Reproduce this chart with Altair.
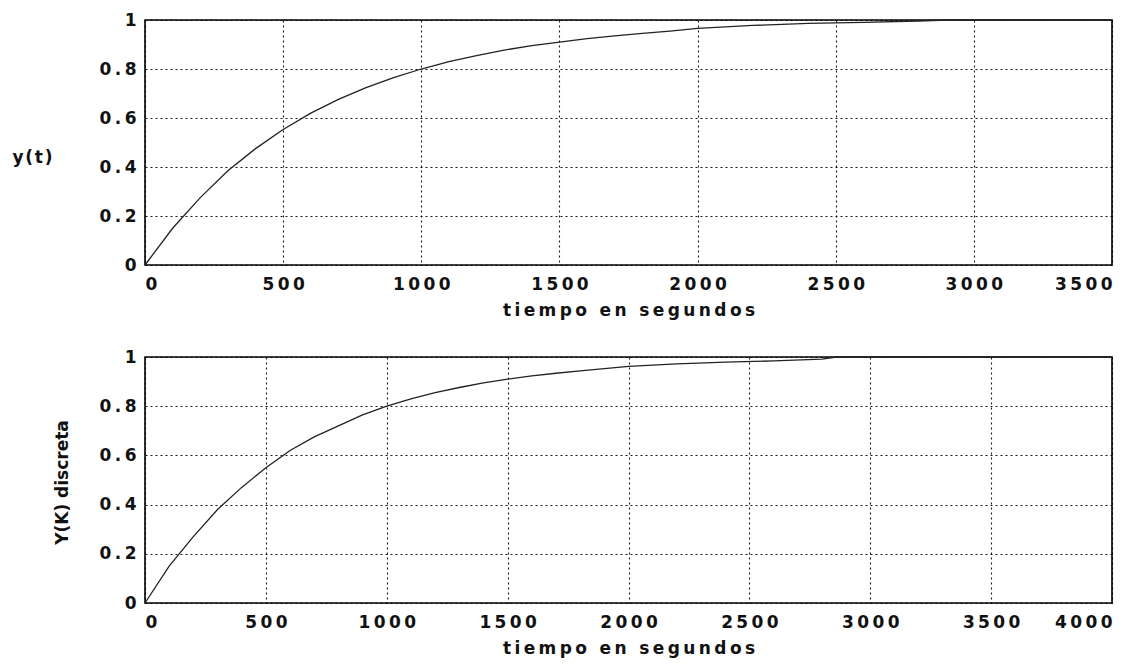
import altair as alt
import pandas as pd

# ---- data ----
t_cont = [0, 100, 200, 300, 400, 500, 600, 700, 800, 900, 1000, 1100, 1200, 1300,
          1400, 1500, 1600, 1700, 1800, 1900, 2000, 2200, 2400, 2600, 2800, 2900,
          3200, 3500]
y_cont = [0.0, 0.15, 0.275, 0.385, 0.475, 0.553, 0.62, 0.676, 0.724, 0.765, 0.80,
          0.83, 0.855, 0.877, 0.895, 0.91, 0.924, 0.935, 0.945, 0.955, 0.966,
          0.978, 0.986, 0.990, 0.996, 1.0, 1.0, 1.0]

t_disc = [0, 100, 200, 300, 400, 500, 600, 700, 800, 900, 1000, 1100, 1200, 1300,
          1400, 1500, 1600, 1700, 1800, 1900, 2000, 2200, 2400, 2600, 2800, 2860,
          3000, 3500, 4000]
y_disc = [0.0, 0.15, 0.27, 0.38, 0.47, 0.55, 0.62, 0.675, 0.72, 0.765, 0.80,
          0.83, 0.855, 0.876, 0.895, 0.91, 0.923, 0.934, 0.944, 0.953, 0.962,
          0.972, 0.979, 0.984, 0.991, 1.0, 1.0, 1.0, 1.0]

x_ticks_top = [0, 500, 1000, 1500, 2000, 2500, 3000, 3500]
x_ticks_bot = [0, 500, 1000, 1500, 2000, 2500, 3000, 3500, 4000]
y_ticks = [0, 0.2, 0.4, 0.6, 0.8, 1]

x_title = "tiempo en segundos"
y_title_top = "y(t)"
y_title_bot = "Y(K) discreta"

THIN = "\u2009"
HAIR = "\u200a"


def spaced(s, sep=THIN):
    return sep.join(s)


label_expr = "join(split(datum.label, ''), '" + THIN + "')"

df_top = pd.DataFrame({"t": t_cont, "y": y_cont})
df_bot = pd.DataFrame({"t": t_disc, "y": y_disc})

W = 967


def panel(df, xmax, xticks, h, ytitle, ytitle_angle, ytx, yty):
    return alt.Chart(df).mark_line(color="#222222", strokeWidth=1.3).encode(
        x=alt.X("t:Q",
                scale=alt.Scale(domain=[0, xmax], nice=False),
                axis=alt.Axis(values=xticks, format="d", labelExpr=label_expr,
                              title=spaced(x_title))),
        y=alt.Y("y:Q",
                scale=alt.Scale(domain=[0, 1], nice=False),
                axis=alt.Axis(values=y_ticks, format="~g", labelExpr=label_expr,
                              title=ytitle, titleAngle=ytitle_angle,
                              titleX=ytx, titleY=yty,
                              titleAlign="center", titleBaseline="middle")),
    ).properties(width=W, height=h)


top = panel(df_top, 3500, x_ticks_top, 245, spaced(y_title_top, HAIR), 0, -113, 137)
bot = panel(df_bot, 4000, x_ticks_bot, 246, y_title_bot, 270, -83, 125)

chart = alt.vconcat(top, bot, spacing=28).properties(
    padding={"left": 11, "top": 10, "right": 5, "bottom": 3},
    background="white",
).configure_view(
    stroke="black", strokeWidth=1.6
).configure_axis(
    domain=False,
    ticks=False,
    labelFont="DejaVu Sans",
    labelFontWeight="bold",
    labelFontSize=17,
    labelColor="#111111",
    labelPadding=7,
    titleFont="DejaVu Sans",
    titleFontWeight="bold",
    titleFontSize=17,
    titleColor="#111111",
    titlePadding=4,
    grid=True,
    gridColor="black",
    gridDash=[2, 3],
    gridWidth=1.1,
    gridOpacity=0.9,
).configure_axisX(
    labelPadding=11,
    titlePadding=10,
).configure_axisY(
    labelPadding=9,
)

chart.save("out.html", embed_options={"renderer": "svg", "actions": False})
